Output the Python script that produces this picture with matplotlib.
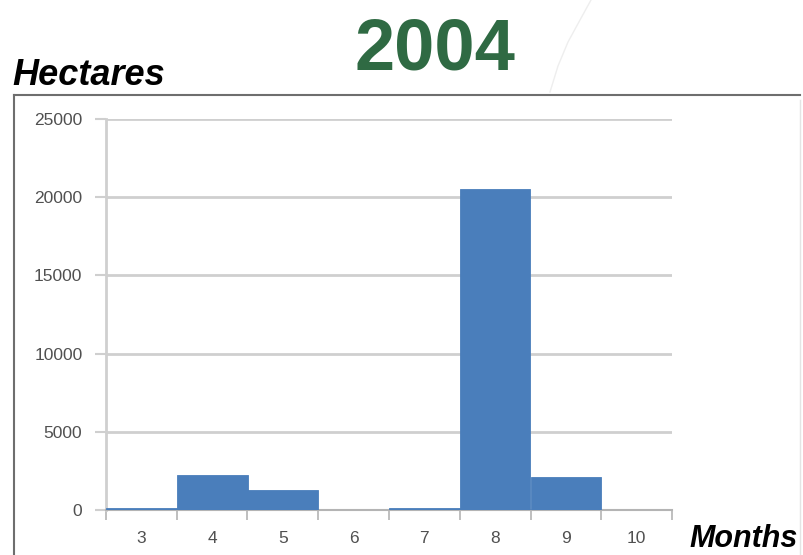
import numpy as np
import matplotlib.pyplot as plt
from matplotlib.lines import Line2D

months = ['3', '4', '5', '6', '7', '8', '9', '10']
hectares = [120, 2250, 1250, 0, 100, 20500, 2100, 0]
yticks = [0, 5000, 10000, 15000, 20000, 25000]

bar_color = '#4a7ebb'
grid_color = '#cfcfcf'
axis_color = '#b4b4b4'
label_color = '#505050'
title_green = '#2f6a43'

fig = plt.figure(figsize=(8.04, 5.55), dpi=100)
ax = fig.add_axes([106 / 804, 1 - 510 / 555, 566 / 804, 391 / 555])

x = np.arange(len(months))
ax.bar(x, hectares, width=1.0, color=bar_color, edgecolor=bar_color,
       linewidth=0.6, zorder=3)

ax.set_xlim(-0.5, len(months) - 0.5)
ax.set_ylim(0, 25000)
ax.set_yticks(yticks)
ax.set_yticklabels([str(v) for v in yticks], fontsize=12.5, color=label_color,
                   family='Liberation Sans')
ax.yaxis.grid(True, color=grid_color, linewidth=2, zorder=0)
ax.tick_params(axis='y', length=8, color=grid_color, width=1.5, pad=9)

# ticks sit on the category boundaries, labels in the middle
ax.set_xticks(np.arange(len(months) + 1) - 0.5)
ax.set_xticklabels([])
ax.set_xticks(x, minor=True)
ax.set_xticklabels(months, minor=True, fontsize=12.5, color=label_color,
                   family='Liberation Sans')
ax.tick_params(axis='x', which='major', length=7, color=axis_color, width=1.2)
ax.tick_params(axis='x', which='minor', length=0, pad=15)

for side in ['top', 'right']:
    ax.spines[side].set_visible(False)
ax.spines['left'].set_color(grid_color)
ax.spines['left'].set_linewidth(2)
ax.spines['bottom'].set_color(axis_color)
ax.spines['bottom'].set_linewidth(1.5)

# outer frame of the chart
fig.add_artist(Line2D([14 / 804, 14 / 804], [0, 1 - 95 / 555], color='#6e6e6e', lw=1.5))
fig.add_artist(Line2D([14 / 804, 800 / 804], [1 - 95 / 555, 1 - 95 / 555], color='#6e6e6e', lw=1.5))
fig.add_artist(Line2D([800 / 804, 800 / 804], [0, 1 - 100 / 555], color='#e4e4e4', lw=1))

# faint background swoosh behind the title
sx = np.array([591, 580, 568, 558, 550]) / 804
sy = 1 - np.array([0, 20, 42, 66, 92]) / 555
fig.add_artist(Line2D(sx, sy, color='#eeeeee', lw=1.0))

fig.text(435 / 804, 1 - 50 / 555, '2004', ha='center', va='center',
         fontsize=52, fontweight='bold', color=title_green, family='Liberation Sans')
fig.text(12 / 804, 1 - 76 / 555, 'Hectares', ha='left', va='center',
         fontsize=26, fontweight='bold', style='italic', color='black',
         family='Liberation Sans')
fig.text(689 / 804, 1 - 539 / 555, 'Months', ha='left', va='center',
         fontsize=22, fontweight='bold', style='italic', color='black',
         family='Liberation Sans')

fig.savefig('out.png', dpi=100)
